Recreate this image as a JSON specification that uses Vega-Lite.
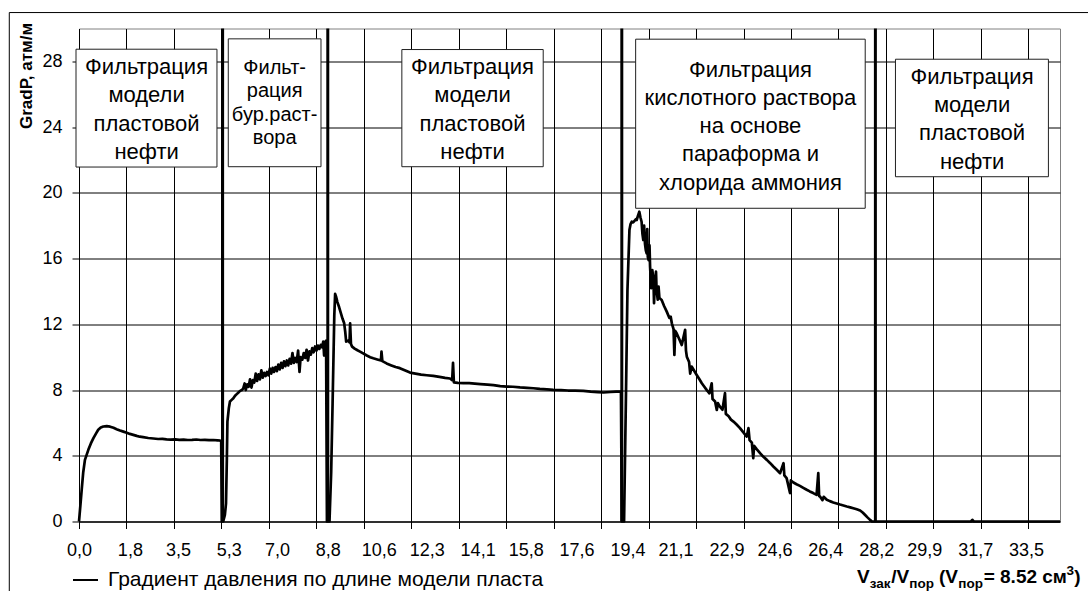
{
  "$schema": "https://vega.github.io/schema/vega-lite/v6.json",
  "width": 981,
  "height": 493,
  "autosize": "none",
  "padding": {"left": 79, "top": 28.5, "right": 28, "bottom": 70},
  "background": "white",
  "config": {
    "font": "Liberation Sans",
    "view": {"stroke": "#808080", "strokeWidth": 1},
    "axis": {"labelFont": "Liberation Sans", "labelColor": "black", "titleFont": "Liberation Sans", "titleColor": "black"},
    "legend": {"labelFont": "Liberation Sans", "labelColor": "black"}
  },
  "datasets": {
    "grad": [
      {"v": 0, "p": 0}, {"v": 0.05, "p": 1.0}, {"v": 0.095, "p": 1.93}, {"v": 0.15, "p": 3.0}, {"v": 0.21, "p": 3.75},
      {"v": 0.33, "p": 4.36}, {"v": 0.42, "p": 4.75}, {"v": 0.51, "p": 5.07}, {"v": 0.6, "p": 5.35}, {"v": 0.68, "p": 5.58},
      {"v": 0.77, "p": 5.72}, {"v": 0.86, "p": 5.78}, {"v": 0.98, "p": 5.8}, {"v": 1.1, "p": 5.77}, {"v": 1.22, "p": 5.7},
      {"v": 1.33, "p": 5.62}, {"v": 1.45, "p": 5.54}, {"v": 1.57, "p": 5.47}, {"v": 1.69, "p": 5.4}, {"v": 1.8, "p": 5.33},
      {"v": 1.92, "p": 5.27}, {"v": 2.04, "p": 5.21}, {"v": 2.15, "p": 5.16}, {"v": 2.27, "p": 5.13}, {"v": 2.45, "p": 5.08},
      {"v": 2.63, "p": 5.05}, {"v": 2.8, "p": 5.02}, {"v": 2.95, "p": 5.03}, {"v": 3.1, "p": 5.0}, {"v": 3.25, "p": 4.98},
      {"v": 3.4, "p": 5.0}, {"v": 3.55, "p": 4.97}, {"v": 3.7, "p": 4.98}, {"v": 3.85, "p": 4.96}, {"v": 4.0, "p": 4.97},
      {"v": 4.15, "p": 4.99}, {"v": 4.3, "p": 4.96}, {"v": 4.45, "p": 4.97}, {"v": 4.6, "p": 4.95}, {"v": 4.75, "p": 4.96},
      {"v": 4.9, "p": 4.94}, {"v": 4.99, "p": 4.93}, {"v": 5.03, "p": 4.85}, {"v": 5.05, "p": 0.0},
      {"v": 5.1, "p": 0.0}, {"v": 5.16, "p": 0.4}, {"v": 5.2, "p": 1.1}, {"v": 5.23, "p": 3.8}, {"v": 5.25, "p": 6.08},
      {"v": 5.3, "p": 6.9}, {"v": 5.34, "p": 7.3}, {"v": 5.4, "p": 7.4}, {"v": 5.46, "p": 7.5}, {"v": 5.52, "p": 7.65},
      {"v": 5.58, "p": 7.75}, {"v": 5.64, "p": 7.85}, {"v": 5.7, "p": 7.95}, {"v": 5.76, "p": 8.0}, {"v": 5.81, "p": 8.1},
      {"v": 5.86, "p": 8.4}, {"v": 5.9, "p": 8.0}, {"v": 5.95, "p": 8.35}, {"v": 6.0, "p": 8.2}, {"v": 6.05, "p": 8.65},
      {"v": 6.1, "p": 8.15}, {"v": 6.15, "p": 8.6}, {"v": 6.2, "p": 8.45}, {"v": 6.25, "p": 9.0}, {"v": 6.3, "p": 8.55},
      {"v": 6.35, "p": 8.95}, {"v": 6.4, "p": 8.65}, {"v": 6.45, "p": 9.2}, {"v": 6.5, "p": 8.75}, {"v": 6.55, "p": 9.05},
      {"v": 6.6, "p": 8.85}, {"v": 6.65, "p": 9.1}, {"v": 6.7, "p": 8.9}, {"v": 6.75, "p": 9.3}, {"v": 6.8, "p": 9.0},
      {"v": 6.85, "p": 9.35}, {"v": 6.9, "p": 9.1}, {"v": 6.95, "p": 9.4}, {"v": 7.0, "p": 9.15}, {"v": 7.05, "p": 9.55},
      {"v": 7.1, "p": 9.25}, {"v": 7.15, "p": 9.65}, {"v": 7.2, "p": 9.35}, {"v": 7.25, "p": 9.75}, {"v": 7.3, "p": 9.45},
      {"v": 7.35, "p": 9.8}, {"v": 7.4, "p": 9.5}, {"v": 7.45, "p": 9.9}, {"v": 7.5, "p": 9.6}, {"v": 7.55, "p": 10.25},
      {"v": 7.6, "p": 9.65}, {"v": 7.65, "p": 9.95}, {"v": 7.7, "p": 9.7}, {"v": 7.75, "p": 10.4}, {"v": 7.8, "p": 9.1},
      {"v": 7.84, "p": 10.0}, {"v": 7.9, "p": 9.85}, {"v": 7.95, "p": 10.25}, {"v": 8.0, "p": 9.95}, {"v": 8.05, "p": 10.45},
      {"v": 8.1, "p": 9.8}, {"v": 8.15, "p": 10.35}, {"v": 8.2, "p": 10.15}, {"v": 8.25, "p": 10.55}, {"v": 8.3, "p": 10.3},
      {"v": 8.35, "p": 10.65}, {"v": 8.4, "p": 10.4}, {"v": 8.45, "p": 10.7}, {"v": 8.5, "p": 10.5}, {"v": 8.55, "p": 10.75},
      {"v": 8.6, "p": 10.6}, {"v": 8.64, "p": 10.95}, {"v": 8.67, "p": 10.1}, {"v": 8.7, "p": 10.9}, {"v": 8.74, "p": 11.0},
      {"v": 8.77, "p": 0.0},
      {"v": 8.86, "p": 0.0}, {"v": 8.92, "p": 3.0}, {"v": 8.97, "p": 7.2}, {"v": 9.03, "p": 12.5}, {"v": 9.06, "p": 13.85},
      {"v": 9.09, "p": 13.7}, {"v": 9.14, "p": 13.35}, {"v": 9.2, "p": 13.05}, {"v": 9.26, "p": 12.7}, {"v": 9.32, "p": 12.35},
      {"v": 9.38, "p": 12.06}, {"v": 9.42, "p": 11.5}, {"v": 9.45, "p": 10.95}, {"v": 9.52, "p": 11.0}, {"v": 9.57, "p": 10.9},
      {"v": 9.59, "p": 12.06}, {"v": 9.62, "p": 10.8}, {"v": 9.66, "p": 10.64}, {"v": 9.75, "p": 10.52}, {"v": 9.85, "p": 10.42},
      {"v": 9.94, "p": 10.34}, {"v": 10.05, "p": 10.23}, {"v": 10.18, "p": 10.1}, {"v": 10.3, "p": 10.0}, {"v": 10.41, "p": 9.93},
      {"v": 10.55, "p": 9.86}, {"v": 10.68, "p": 9.8}, {"v": 10.7, "p": 10.34}, {"v": 10.73, "p": 9.76}, {"v": 10.88, "p": 9.62},
      {"v": 11.05, "p": 9.5}, {"v": 11.2, "p": 9.4}, {"v": 11.35, "p": 9.33}, {"v": 11.52, "p": 9.2}, {"v": 11.71, "p": 9.06},
      {"v": 11.9, "p": 9.0}, {"v": 12.1, "p": 8.94}, {"v": 12.3, "p": 8.9}, {"v": 12.53, "p": 8.86}, {"v": 12.75, "p": 8.8},
      {"v": 12.95, "p": 8.74}, {"v": 13.12, "p": 8.7}, {"v": 13.2, "p": 8.6}, {"v": 13.23, "p": 9.65}, {"v": 13.26, "p": 8.47},
      {"v": 13.4, "p": 8.44}, {"v": 13.6, "p": 8.42}, {"v": 13.8, "p": 8.42}, {"v": 14.0, "p": 8.39}, {"v": 14.2, "p": 8.36},
      {"v": 14.45, "p": 8.33}, {"v": 14.66, "p": 8.3}, {"v": 14.9, "p": 8.24}, {"v": 15.13, "p": 8.21}, {"v": 15.35, "p": 8.2},
      {"v": 15.6, "p": 8.16}, {"v": 15.85, "p": 8.13}, {"v": 16.07, "p": 8.11}, {"v": 16.3, "p": 8.07}, {"v": 16.55, "p": 8.04},
      {"v": 16.78, "p": 8.01}, {"v": 17.05, "p": 7.99}, {"v": 17.3, "p": 7.97}, {"v": 17.55, "p": 7.96}, {"v": 17.84, "p": 7.95},
      {"v": 18.1, "p": 7.9}, {"v": 18.35, "p": 7.87}, {"v": 18.55, "p": 7.85}, {"v": 18.8, "p": 7.88}, {"v": 19.0, "p": 7.9},
      {"v": 19.17, "p": 7.91}, {"v": 19.2, "p": 0.0},
      {"v": 19.28, "p": 0.0}, {"v": 19.35, "p": 8.0}, {"v": 19.4, "p": 14.09}, {"v": 19.47, "p": 17.74}, {"v": 19.51, "p": 18.1},
      {"v": 19.55, "p": 18.24}, {"v": 19.6, "p": 18.2}, {"v": 19.65, "p": 18.3}, {"v": 19.7, "p": 18.4}, {"v": 19.73, "p": 18.35},
      {"v": 19.77, "p": 18.6}, {"v": 19.82, "p": 18.85}, {"v": 19.86, "p": 18.5}, {"v": 19.9, "p": 18.24}, {"v": 19.93, "p": 17.5},
      {"v": 19.96, "p": 17.13}, {"v": 19.99, "p": 18.0}, {"v": 20.02, "p": 16.9}, {"v": 20.05, "p": 16.5}, {"v": 20.08, "p": 16.32},
      {"v": 20.1, "p": 17.8}, {"v": 20.12, "p": 16.1}, {"v": 20.15, "p": 15.9}, {"v": 20.18, "p": 16.8}, {"v": 20.2, "p": 15.51},
      {"v": 20.24, "p": 14.2}, {"v": 20.28, "p": 15.3}, {"v": 20.32, "p": 14.7}, {"v": 20.34, "p": 13.28}, {"v": 20.37, "p": 14.5},
      {"v": 20.41, "p": 15.2}, {"v": 20.43, "p": 14.09}, {"v": 20.47, "p": 13.5}, {"v": 20.5, "p": 14.3}, {"v": 20.53, "p": 13.6},
      {"v": 20.61, "p": 13.48}, {"v": 20.7, "p": 13.1}, {"v": 20.79, "p": 12.77}, {"v": 20.88, "p": 12.4}, {"v": 20.93, "p": 12.46},
      {"v": 20.97, "p": 12.06}, {"v": 21.03, "p": 11.7}, {"v": 21.06, "p": 10.14}, {"v": 21.09, "p": 11.6}, {"v": 21.14, "p": 11.46},
      {"v": 21.23, "p": 11.1}, {"v": 21.32, "p": 10.74}, {"v": 21.44, "p": 11.66}, {"v": 21.47, "p": 10.4}, {"v": 21.5, "p": 10.03},
      {"v": 21.58, "p": 9.7}, {"v": 21.62, "p": 9.0}, {"v": 21.67, "p": 9.43}, {"v": 21.76, "p": 9.17}, {"v": 21.85, "p": 8.92},
      {"v": 21.94, "p": 8.67}, {"v": 22.03, "p": 8.41}, {"v": 22.12, "p": 8.2}, {"v": 22.2, "p": 8.01}, {"v": 22.3, "p": 7.8},
      {"v": 22.38, "p": 8.41}, {"v": 22.41, "p": 7.45}, {"v": 22.5, "p": 7.3}, {"v": 22.56, "p": 6.79}, {"v": 22.6, "p": 7.2},
      {"v": 22.67, "p": 6.99}, {"v": 22.76, "p": 6.8}, {"v": 22.85, "p": 7.81}, {"v": 22.88, "p": 6.55}, {"v": 22.98, "p": 6.4},
      {"v": 23.06, "p": 6.2}, {"v": 23.15, "p": 6.08}, {"v": 23.26, "p": 5.9}, {"v": 23.38, "p": 5.68}, {"v": 23.5, "p": 5.42},
      {"v": 23.62, "p": 5.17}, {"v": 23.68, "p": 5.68}, {"v": 23.72, "p": 4.95}, {"v": 23.8, "p": 4.8}, {"v": 23.85, "p": 3.85},
      {"v": 23.88, "p": 4.6}, {"v": 23.97, "p": 4.4}, {"v": 24.09, "p": 4.16}, {"v": 24.2, "p": 3.95}, {"v": 24.33, "p": 3.75},
      {"v": 24.45, "p": 3.55}, {"v": 24.56, "p": 3.35}, {"v": 24.68, "p": 3.15}, {"v": 24.8, "p": 2.94}, {"v": 24.92, "p": 3.55},
      {"v": 24.95, "p": 2.8}, {"v": 25.03, "p": 2.64}, {"v": 25.15, "p": 1.73}, {"v": 25.18, "p": 2.5}, {"v": 25.27, "p": 2.37},
      {"v": 25.38, "p": 2.27}, {"v": 25.5, "p": 2.17}, {"v": 25.62, "p": 2.05}, {"v": 25.74, "p": 1.93}, {"v": 25.85, "p": 1.83},
      {"v": 25.97, "p": 1.73}, {"v": 26.09, "p": 1.62}, {"v": 26.15, "p": 2.94}, {"v": 26.18, "p": 1.55}, {"v": 26.21, "p": 1.52},
      {"v": 26.3, "p": 1.3}, {"v": 26.34, "p": 1.5}, {"v": 26.45, "p": 1.32}, {"v": 26.56, "p": 1.24}, {"v": 26.68, "p": 1.16},
      {"v": 26.8, "p": 1.1}, {"v": 26.92, "p": 1.03}, {"v": 27.04, "p": 0.97}, {"v": 27.16, "p": 0.91}, {"v": 27.28, "p": 0.86},
      {"v": 27.39, "p": 0.81}, {"v": 27.51, "p": 0.75}, {"v": 27.63, "p": 0.67}, {"v": 27.72, "p": 0.55}, {"v": 27.8, "p": 0.41},
      {"v": 27.89, "p": 0.25}, {"v": 27.98, "p": 0.1}, {"v": 28.05, "p": 0.0}, {"v": 31.55, "p": 0.0}, {"v": 31.6, "p": 0.1},
      {"v": 31.65, "p": 0.0}, {"v": 34.7, "p": 0.0}
    ],
    "bounds": [{"v": 5.08}, {"v": 8.8}, {"v": 19.2}, {"v": 28.17}],
    "frame": [{"x1": -2.466, "x2": 37.5, "y1": 30.97, "y2": -8}],
    "stages": [
      {"stage": "oil1", "x1": -0.106, "x2": 4.88, "y1": 28.74, "y2": 21.57, "cx": 2.39, "cy": 27.65, "label": "Фильтрация|модели|пластовой|нефти"},
      {"stage": "mud", "x1": 5.28, "x2": 8.56, "y1": 29.37, "y2": 21.59, "cx": 6.92, "cy": 27.59, "label": "Фильт-|рация|бур.раст-|вора"},
      {"stage": "oil2", "x1": 11.42, "x2": 16.42, "y1": 28.72, "y2": 21.59, "cx": 13.92, "cy": 27.65, "label": "Фильтрация|модели|пластовой|нефти"},
      {"stage": "acid", "x1": 19.69, "x2": 27.81, "y1": 29.35, "y2": 19.06, "cx": 23.75, "cy": 27.5, "label": "Фильтрация|кислотного раствора|на основе|параформа и|хлорида аммония"},
      {"stage": "oil3", "x1": 28.88, "x2": 34.29, "y1": 28.13, "y2": 20.98, "cx": 31.59, "cy": 27.06, "label": "Фильтрация|модели|пластовой|нефти"}
    ],
    "titleMain": [
      {"t": "V", "v": 27.52, "g": -3.73},
      {"t": "/V", "v": 28.73, "g": -3.73},
      {"t": "(V", "v": 30.42, "g": -3.73},
      {"t": "= 8.52 см", "v": 32.0, "g": -3.73},
      {"t": ")", "v": 35.2, "g": -3.73}
    ],
    "titleSub": [
      {"t": "зак", "v": 27.97, "g": -4.05},
      {"t": "пор", "v": 29.37, "g": -4.05},
      {"t": "пор", "v": 31.1, "g": -4.05}
    ],
    "titleSup": [
      {"t": "3", "v": 34.93, "g": -3.24}
    ]
  },
  "resolve": {"axis": {"x": "independent"}},
  "layer": [
    {
      "data": {"name": "grad"},
      "mark": {"type": "line", "strokeWidth": 2.7, "strokeJoin": "round"},
      "encoding": {
        "x": {
          "field": "v", "type": "quantitative",
          "scale": {"domain": [0, 34.7], "nice": false, "zero": false},
          "axis": {
            "orient": "bottom", "title": null, "labels": false,
            "values": [0, 1.679, 3.358, 5.037, 6.716, 8.395, 10.074, 11.753, 13.432, 15.111, 16.79, 18.469, 20.148, 21.827, 23.506, 25.185, 26.864, 28.543, 30.222, 31.901, 33.58],
            "grid": true, "gridColor": "black", "gridWidth": 1, "gridOpacity": 1,
            "ticks": true, "tickSize": 7, "tickColor": "black", "tickWidth": 1,
            "domain": true, "domainColor": "black", "domainWidth": 1
          }
        },
        "y": {
          "field": "p", "type": "quantitative",
          "scale": {"domain": [0, 30], "nice": false, "zero": true},
          "axis": {
            "values": [0, 4, 8, 12, 16, 20, 24, 28],
            "grid": true, "gridColor": "black", "gridWidth": 1, "gridOpacity": 1,
            "ticks": true, "tickSize": 7, "tickColor": "black",
            "domain": true, "domainColor": "black",
            "labelFontSize": 18, "labelPadding": 10,
            "title": "GradP, атм/м", "titleFontSize": 17, "titleFontWeight": "bold",
            "titleAngle": -90, "titleX": -53, "titleY": 47, "titleAlign": "center", "titleBaseline": "middle"
          }
        },
        "color": {
          "datum": "Градиент давления по длине модели пласта",
          "scale": {"range": ["black"]},
          "legend": {
            "title": null, "orient": "none", "legendX": -7, "legendY": 538, "padding": 0,
            "symbolType": "stroke", "symbolSize": 625, "symbolStrokeWidth": 2, "symbolStrokeColor": "black",
            "labelFontSize": 21, "labelOffset": 9, "labelLimit": 0
          }
        }
      }
    },
    {
      "data": {"name": "bounds"},
      "mark": {"type": "rule", "strokeWidth": 3, "color": "black"},
      "encoding": {
        "x": {
          "field": "v", "type": "quantitative",
          "axis": {
            "orient": "bottom", "title": null,
            "values": [0, 1.8, 3.5, 5.3, 7.0, 8.8, 10.6, 12.3, 14.1, 15.8, 17.6, 19.4, 21.1, 22.9, 24.6, 26.4, 28.2, 29.9, 31.7, 33.5],
            "labelExpr": "replace(format(datum.value, '.1f'), '.', ',')",
            "grid": false, "ticks": false, "domain": false,
            "labelFontSize": 18, "labelPadding": 20, "labelOverlap": false, "labelFlush": false
          }
        }
      }
    },
    {
      "data": {"name": "stages"},
      "mark": {"type": "rect", "fill": "white", "stroke": "#202020", "strokeWidth": 1},
      "encoding": {
        "x": {"field": "x1", "type": "quantitative", "axis": null},
        "x2": {"field": "x2"},
        "y": {"field": "y1", "type": "quantitative"},
        "y2": {"field": "y2"}
      }
    },
    {
      "data": {"name": "stages"},
      "transform": [{"filter": "datum.stage != 'mud'"}],
      "mark": {"type": "text", "fontSize": 22, "lineHeight": 28.3, "lineBreak": "|", "align": "center", "baseline": "middle", "color": "black"},
      "encoding": {
        "x": {"field": "cx", "type": "quantitative", "axis": null},
        "y": {"field": "cy", "type": "quantitative"},
        "text": {"field": "label"}
      }
    },
    {
      "data": {"name": "stages"},
      "transform": [{"filter": "datum.stage == 'mud'"}],
      "mark": {"type": "text", "fontSize": 20, "lineHeight": 23.3, "lineBreak": "|", "align": "center", "baseline": "middle", "color": "black"},
      "encoding": {
        "x": {"field": "cx", "type": "quantitative", "axis": null},
        "y": {"field": "cy", "type": "quantitative"},
        "text": {"field": "label"}
      }
    },
    {
      "data": {"name": "titleMain"},
      "mark": {"type": "text", "fontSize": 19, "fontWeight": "bold", "align": "left", "baseline": "alphabetic", "color": "black"},
      "encoding": {
        "x": {"field": "v", "type": "quantitative", "axis": null},
        "y": {"field": "g", "type": "quantitative"},
        "text": {"field": "t"}
      }
    },
    {
      "data": {"name": "titleSub"},
      "mark": {"type": "text", "fontSize": 13.5, "fontWeight": "bold", "align": "left", "baseline": "alphabetic", "color": "black"},
      "encoding": {
        "x": {"field": "v", "type": "quantitative", "axis": null},
        "y": {"field": "g", "type": "quantitative"},
        "text": {"field": "t"}
      }
    },
    {
      "data": {"name": "titleSup"},
      "mark": {"type": "text", "fontSize": 13.5, "fontWeight": "bold", "align": "left", "baseline": "alphabetic", "color": "black"},
      "encoding": {
        "x": {"field": "v", "type": "quantitative", "axis": null},
        "y": {"field": "g", "type": "quantitative"},
        "text": {"field": "t"}
      }
    },
    {
      "data": {"name": "frame"},
      "mark": {"type": "rect", "fill": "transparent", "stroke": "black", "strokeWidth": 1},
      "encoding": {
        "x": {"field": "x1", "type": "quantitative", "axis": null},
        "x2": {"field": "x2"},
        "y": {"field": "y1", "type": "quantitative"},
        "y2": {"field": "y2"}
      }
    }
  ]
}
